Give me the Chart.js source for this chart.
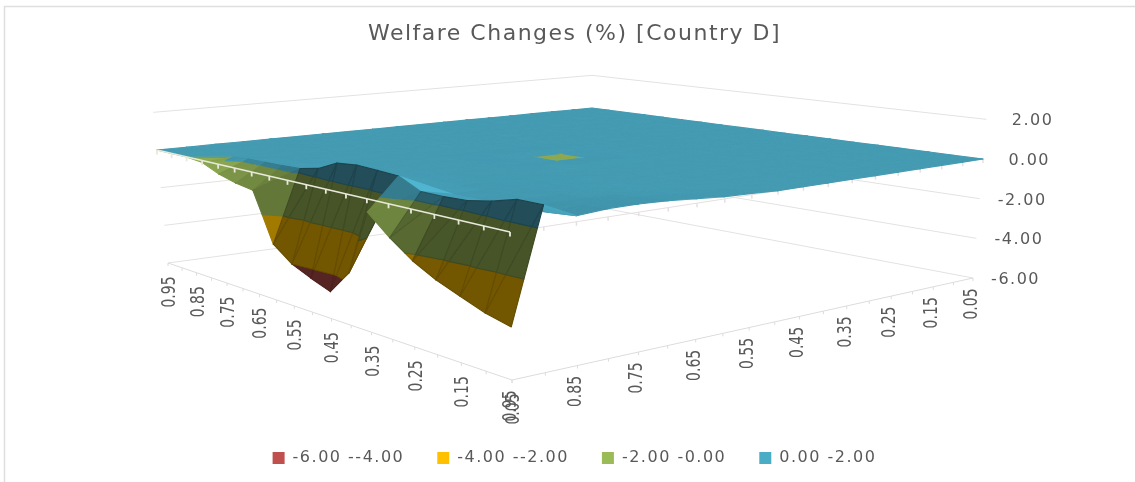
<!DOCTYPE html>
<html>
<head>
<meta charset="utf-8">
<style>
  html, body { margin: 0; padding: 0; background: #fff; }
  #wrap { width: 1135px; height: 482px; }
</style>
<script src="https://cdn.jsdelivr.net/npm/chart.js@4"></script>
</head>
<body>
<div id="wrap"><canvas id="surface"></canvas></div>
<script>
const chartTitle = 'Welfare Changes (%) [Country D]';
const legendLabels = ['-6.00 --4.00', '-4.00 --2.00', '-2.00 -0.00', '0.00 -2.00'];
const bandEdges = [-6, -4, -2, 0, 2];
const bandColors = [[192, 80, 77], [255, 192, 0], [155, 187, 89], [75, 172, 198]];
const zTicks = [2, 0, -2, -4, -6];
const zTickLabels = ['2.00', '0.00', '-2.00', '-4.00', '-6.00'];
const leftAxisLabels = ['0.95', '0.85', '0.75', '0.65', '0.55', '0.45', '0.35', '0.25', '0.15', '0.05'];
const rightAxisLabels = ['0.95', '0.85', '0.75', '0.65', '0.55', '0.45', '0.35', '0.25', '0.15', '0.05'];

// one row per value of the right axis, columns run 0.95 -> 0.05 on the left axis
const b05 = [0,0,0,0,0,0,0,0,0,0,0,0,0,0,0,0,0,0,0];
const b10 = [0,0,0,0,0,0,0,0,0,0,0,0,0,0,0,0,0,0,0];
const b15 = [0,0,0,0,0,0,0,0,0,0,0,0,0,0,0,0,0,0,0];
const b20 = [0,0,0,0,0,0,0,0,0,0,0,0,0,0,0,0,0,0,0];
const b25 = [0,0,0,0,0,0,0,0,0,0,0,0,0,0,0,0,0,0,0];
const b30 = [0,0,0,0,0,0,0,0,0,0,0,0,0,0,0,0,0,0,0];
const b35 = [0,0,0,0,0,0,0,0,0,0,0,0,0,0,0,0,0,0,0];
const b40 = [0,0,0,0,0,0,0,0,0,0,0,0,0,0,0,0,0,0,0];
const b45 = [0,0,0,0,0,0,0,0,0.02,0.02,0.02,0.02,0,0,0,0,0,0,0];
const b50 = [0,0,0,0,0,0,0,0,0.02,-0.001,-0.001,0.02,0,0,0,0,0,0,0];
const b55 = [0,0,0,0,0,0,0,0,0.02,-0.001,-0.001,0.02,0,0,0,0,0,0,0.05];
const b60 = [0,0,0,0,0,0,0,0,0.02,0.02,0.02,0.02,0,0,0,0,0,0.03,0.1];
const b65 = [0,0,0,0,0,0,0,0,0,0,0,0,0,0.01,0.02,0.03,0.05,0.1,0.2];
const b70 = [0,0,0,0,0,0,0,0,0,0,0,0,0.01,0.02,0.04,0.06,0.1,0.2,0.3];
const b75 = [0,0,0,0,0,0,0,0,0,0,0,0.01,0.02,0.04,0.06,0.1,0.15,0.25,0.35];
const b80 = [0,0,0,0,0,0,0,0.01,0.01,0.02,0.03,0.03,0.03,0.05,0.08,0.1,0.15,0.25,0.35];
const b85 = [0,0,0,0,0,0.02,0.05,0.05,0.05,0.1,0.1,0.1,0.1,0.05,0.05,0.05,0.1,0.15,0.25];
const b90 = [0,0,0,0,0.1,0.12,0.15,0.2,0.4,0.85,0.95,0.9,0.85,0.35,0.35,0.4,0.6,0.9,0.9];
const b95 = [0,0,0,-0.1,-0.5,-0.75,-0.9,-3.3,-4,-4.4,-4.75,-3.6,-0.6,-1.5,-2.25,-2.8,-3.2,-3.6,-3.85];
const surfaceRows = [b05, b10, b15, b20, b25, b30, b35, b40, b45, b50, b55, b60, b65, b70, b75, b80, b85, b90, b95];

// corners of the box in plot units: back, right, front, left
const planeTop = [[592, 108], [983, 159], [510, 232], [157, 150]];   // z = 0
const planeFloor = [[592, 206], [973, 278], [512, 380], [168, 263]]; // z = -6

function squareToQuad(q) {
    const dx1 = q[1][0] - q[2][0], dy1 = q[1][1] - q[2][1];
    const dx2 = q[3][0] - q[2][0], dy2 = q[3][1] - q[2][1];
    const dx3 = q[0][0] - q[1][0] + q[2][0] - q[3][0];
    const dy3 = q[0][1] - q[1][1] + q[2][1] - q[3][1];
    const det = dx1 * dy2 - dx2 * dy1;
    const g = (dx3 * dy2 - dx2 * dy3) / det;
    const h = (dx1 * dy3 - dx3 * dy1) / det;
    return (u, v) => {
        const w = g * u + h * v + 1;
        return [
            ((q[1][0] - q[0][0] + g * q[1][0]) * u + (q[3][0] - q[0][0] + h * q[3][0]) * v + q[0][0]) / w,
            ((q[1][1] - q[0][1] + g * q[1][1]) * u + (q[3][1] - q[0][1] + h * q[3][1]) * v + q[0][1]) / w
        ];
    };
}
const mapTop = squareToQuad(planeTop);
const mapFloor = squareToQuad(planeFloor);

// (u, v) on the base grid plus height -> plot units
function project(u, v, z) {
    const a = mapTop(u, v), b = mapFloor(u, v), t = z / -6;
    return [a[0] + (b[0] - a[0]) * t, a[1] + (b[1] - a[1]) * t];
}

function clipAbove(poly, lo) {
    const out = [];
    poly.forEach((p, k) => {
        const q = poly[(k + 1) % poly.length];
        if (p.z >= lo) out.push(p);
        if ((p.z >= lo) !== (q.z >= lo)) {
            const t = (lo - p.z) / (q.z - p.z);
            out.push({ u: p.u + (q.u - p.u) * t, v: p.v + (q.v - p.v) * t, z: lo });
        }
    });
    return out;
}
function clipBelow(poly, hi) {
    const flip = poly.map(p => ({ u: p.u, v: p.v, z: -p.z }));
    return clipAbove(flip, -hi).map(p => ({ u: p.u, v: p.v, z: -p.z }));
}

function brightness(zu, zv) {
    const k = 0.5, nu = -zu * k, nv = -zv * k, len = Math.hypot(nu, nv, 1);
    const b = 0.35 + (0.54 * nu - 0.3 * nv + 0.55) / len;
    return Math.min(1.05, Math.max(0.45, b));
}

const surfacePlugin = {
    id: 'surface',
    beforeUpdate(chart) { chart.ctx.letterSpacing = '1.5px'; },
    beforeDraw(chart) {
        const ctx = chart.ctx;
        ctx.letterSpacing = '1.5px';
        ctx.save();
        ctx.strokeStyle = '#dedede';
        ctx.lineWidth = 1.5;
        ctx.beginPath();
        ctx.moveTo(4.5, 482);
        ctx.lineTo(4.5, 6.5);
        ctx.lineTo(1135, 6.5);
        ctx.stroke();
        ctx.restore();
    },
    beforeDatasetsDraw(chart) {
        const ctx = chart.ctx, sx = chart.scales.x, sy = chart.scales.y;
        const px = p => [sx.getPixelForValue(p[0]), sy.getPixelForValue(p[1])];
        const n = surfaceRows.length - 1, m = b05.length - 1;
        const line = (pts, color, width) => {
            ctx.strokeStyle = color;
            ctx.lineWidth = width;
            ctx.beginPath();
            pts.forEach((p, k) => {
                const q = px(p);
                if (k) ctx.lineTo(q[0], q[1]); else ctx.moveTo(q[0], q[1]);
            });
            ctx.stroke();
        };
        ctx.save();
        ctx.letterSpacing = '0px';

        // back walls and floor
        zTicks.forEach(z => {
            line([project(0, 1, z), project(0, 0, z), project(1, 0, z)], '#e2e2e2', 1);
        });
        line([project(0, 1, -6), project(1, 1, -6), project(1, 0, -6)], '#dcdcdc', 1);
        for (let i = 0; i <= m; i++) {
            const p = project(i / m, 1, -6), q = project(1, i / m, -6);
            line([p, [p[0], p[1] + 3]], '#dcdcdc', 1);
            line([q, [q[0], q[1] + 3]], '#dcdcdc', 1);
        }
        line([project(1, 1, 0), project(1, 0, 0)], '#e6dfe0', 1);
        for (let j = 0; j < n; j++) {
            const p = project(1, j / n, 0);
            line([p, [p[0], p[1] + 4]], '#e6dfe0', 1.5);
        }

        // surface, back to front, cut into the colour bands
        const fillPoly = (poly, shade) => {
            // steep facets get a slightly darker edge, the folds show in the walls
            const edge = shade < 0.6 ? 0.88 : 1;
            for (let b = 0; b < bandColors.length; b++) {
                const lo = bandEdges[b], hi = bandEdges[b + 1];
                const zs = poly.map(p => p.z);
                if (Math.min(...zs) >= hi || Math.max(...zs) < lo) continue;
                const part = clipBelow(clipAbove(poly, lo), hi);
                if (part.length < 3) continue;
                const c = bandColors[b].map(x => Math.min(255, Math.round(x * shade)));
                ctx.fillStyle = 'rgb(' + c.join(',') + ')';
                ctx.strokeStyle = 'rgb(' + c.map(x => Math.round(x * edge)).join(',') + ')';
                ctx.lineWidth = 1.1;
                ctx.lineJoin = 'round';
                ctx.beginPath();
                part.forEach((p, k) => {
                    const q = px(project(p.u, p.v, p.z));
                    if (k) ctx.lineTo(q[0], q[1]); else ctx.moveTo(q[0], q[1]);
                });
                ctx.closePath();
                ctx.fill();
                ctx.stroke();
            }
        };
        for (let j = 0; j < n; j++) {
            for (let i = 0; i < m; i++) {
                const vert = (a, b) => ({ u: a / m, v: b / n, z: surfaceRows[b][a] });
                const p00 = vert(i, j), p10 = vert(i + 1, j), p01 = vert(i, j + 1), p11 = vert(i + 1, j + 1);
                fillPoly([p00, p10, p01], brightness(p10.z - p00.z, p01.z - p00.z));
                fillPoly([p10, p11, p01], brightness(p11.z - p01.z, p11.z - p10.z));
            }
        }

        // the zero line along the front left edge sits on top
        line([project(0, 1, 0), project(1, 1, 0)], '#e9e9da', 1.6);
        for (let i = 0; i <= m; i++) {
            const p = project(i / m, 1, 0);
            line([p, [p[0], p[1] + 4.5]], '#e9e9da', 1.8);
        }

        // tick labels
        ctx.fillStyle = '#595959';
        ctx.textBaseline = 'middle';
        ctx.letterSpacing = '1.5px';
        ctx.font = '16px "DejaVu Sans"';
        ctx.textAlign = 'right';
        zTicks.forEach((z, k) => {
            const p = px(project(1, 0, z));
            ctx.fillText(zTickLabels[k], p[0] + 67, p[1] + 2);
        });
        ctx.letterSpacing = '0px';
        ctx.font = '14px "DejaVu Sans"';
        ctx.textAlign = 'center';
        const rotated = (text, x, y) => {
            ctx.save();
            ctx.translate(x, y);
            ctx.scale(1.35, 1);
            ctx.rotate(-Math.PI / 2);
            ctx.fillText(text, 0, 0);
            ctx.restore();
        };
        leftAxisLabels.forEach((t, k) => {
            const p = px(project(k / (leftAxisLabels.length - 1), 1, -6));
            rotated(t, p[0] + 2, p[1] + 29);
        });
        rightAxisLabels.forEach((t, k) => {
            const p = px(project(1, 1 - k / (rightAxisLabels.length - 1), -6));
            rotated(t, p[0] - 1, p[1] + 26);
        });
        ctx.restore();
    }
};

const chart = new Chart(document.getElementById('surface'), {
    type: 'scatter',
    data: {
        datasets: legendLabels.map((label, k) => ({
            label: label,
            data: [],
            backgroundColor: 'rgb(' + bandColors[k].join(',') + ')',
            borderWidth: 0
        }))
    },
    options: {
        responsive: true,
        maintainAspectRatio: false,
        animation: false,
        layout: { padding: { left: 14, bottom: 6 } },
        scales: {
            x: { type: 'linear', display: false, min: 0, max: 1135 },
            y: { type: 'linear', display: false, reverse: true, min: 0, max: 482 }
        },
        plugins: {
            title: {
                display: true,
                text: chartTitle,
                color: '#595959',
                font: { family: '"DejaVu Sans"', size: 22, weight: 'normal' },
                padding: { top: 21, bottom: 6 }
            },
            legend: {
                position: 'bottom',
                labels: {
                    color: '#595959',
                    font: { family: '"DejaVu Sans"', size: 16 },
                    boxWidth: 12,
                    boxHeight: 12,
                    padding: 33
                }
            },
            tooltip: { enabled: false }
        }
    },
    plugins: [surfacePlugin]
});

// the plot units are page pixels, so the scales take the range of the chart area
const area = chart.chartArea;
chart.options.scales.x.min = area.left;
chart.options.scales.x.max = area.right;
chart.options.scales.y.min = area.top;
chart.options.scales.y.max = area.bottom;
chart.update('none');
</script>
</body>
</html>
